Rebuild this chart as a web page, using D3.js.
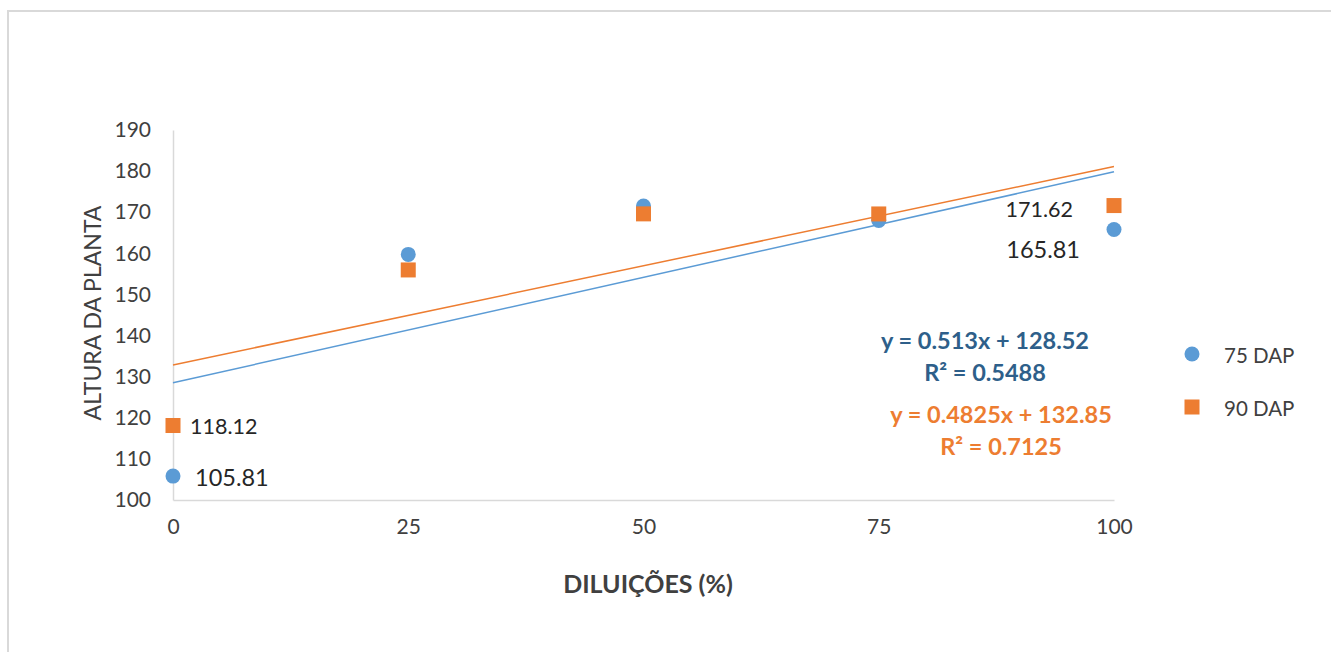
<!DOCTYPE html>
<html><head><meta charset="utf-8">
<script src="https://cdn.jsdelivr.net/npm/d3@7"></script>
<style>body{margin:0;background:#fff}svg{display:block}text{font-family:Lato,"Open Sans",sans-serif}</style>
</head><body><svg id="c" width="1331" height="652"></svg>
<script>
const xValues = [0, 25, 50, 75, 100];
const dap75 = [105.81, 159.74, 171.5, 167.99, 165.81];
const dap90 = [118.12, 155.96, 169.6, 169.58, 171.62];
const seriesNames = ["75 DAP", "90 DAP"];
const trend75 = {slope: 0.513, intercept: 128.52, eq: "y = 0.513x + 128.52", r2: "R² = 0.5488"};
const trend90 = {slope: 0.4825, intercept: 132.85, eq: "y = 0.4825x + 132.85", r2: "R² = 0.7125"};
const xTicks = [0, 25, 50, 75, 100];
const yTicks = [100, 110, 120, 130, 140, 150, 160, 170, 180, 190];

const svg = d3.select("#c");
const blue = "#5b9bd5", orange = "#ed7d31", axisCol = "#d9d9d9", txt = "#404040";
// frame
svg.append("rect").attr("x", 8).attr("y", 11).attr("width", 1340).attr("height", 660)
  .attr("fill", "none").attr("stroke", axisCol).attr("stroke-width", 2);

const x = d3.scaleLinear().domain([0, 100]).range([173, 1114]);
const y = d3.scaleLinear().domain([100, 190]).range([500, 130]);

// axes
const yAx = svg.append("g").attr("transform", "translate(173,0)")
  .call(d3.axisLeft(y).tickValues(yTicks).tickSize(0).tickPadding(22));
const xAx = svg.append("g").attr("transform", "translate(0,500)")
  .call(d3.axisBottom(x).tickValues(xTicks).tickSize(0).tickPadding(19));
[yAx, xAx].forEach(g => {
  g.select(".domain").attr("stroke", axisCol).attr("stroke-width", 1.5);
  g.selectAll("text").attr("fill", txt).attr("font-size", 21).attr("font-family", "Lato");
});

// trendlines
[[trend75, blue], [trend90, orange]].forEach(([t, c]) => {
  svg.append("line")
    .attr("x1", x(0)).attr("y1", y(t.intercept))
    .attr("x2", x(100)).attr("y2", y(t.intercept + t.slope * 100))
    .attr("stroke", c).attr("stroke-width", 1.5);
});

// points
svg.selectAll("circle.p").data(xValues.map((v, i) => [v, dap75[i]])).enter()
  .append("circle").attr("class", "p").attr("cx", d => x(d[0])).attr("cy", d => y(d[1]))
  .attr("r", 7.5).attr("fill", blue);
svg.selectAll("rect.p").data(xValues.map((v, i) => [v, dap90[i]])).enter()
  .append("rect").attr("class", "p").attr("x", d => x(d[0]) - 7.5).attr("y", d => y(d[1]) - 7.5)
  .attr("width", 15).attr("height", 15).attr("fill", orange);

// data labels
const lab = (t, xx, yy, anchor, fs) => svg.append("text").attr("x", xx).attr("y", yy)
  .attr("text-anchor", anchor).attr("dominant-baseline", "central")
  .attr("font-size", fs).attr("fill", "#262626").text(t);
lab(dap90[0].toFixed(2), x(0) + 17, y(dap90[0]), "start", 21.5);
lab(dap75[0].toFixed(2), x(0) + 22, y(dap75[0]) + 1, "start", 23.5);
lab(dap90[4].toFixed(2), x(100) - 41, y(dap90[4]) + 3, "end", 21.5);
lab(dap75[4].toFixed(2), x(100) - 34, y(dap75[4]) + 20, "end", 23.5);

// equations
const eq = (t, cx, cy, c) => svg.append("text").attr("x", cx).attr("y", cy)
  .attr("text-anchor", "middle").attr("dominant-baseline", "central")
  .attr("font-size", 23.5).attr("font-weight", "bold").attr("fill", c).text(t);
eq(trend75.eq, 985, 340, "#2e5f8a");
eq(trend75.r2, 985, 372, "#2e5f8a");
eq(trend90.eq, 1001, 414, orange);
eq(trend90.r2, 1001, 446, orange);

// legend
svg.append("circle").attr("cx", 1192).attr("cy", 354).attr("r", 7.5).attr("fill", blue);
svg.append("rect").attr("x", 1184.5).attr("y", 399.5).attr("width", 15).attr("height", 15).attr("fill", orange);
seriesNames.forEach((n, i) => svg.append("text").attr("x", 1224).attr("y", 355 + i * 53)
  .attr("dominant-baseline", "central").attr("font-size", 20.5).attr("fill", txt).text(n));

// axis titles
svg.append("text").attr("x", 648).attr("y", 583).attr("text-anchor", "middle")
  .attr("dominant-baseline", "central").attr("font-size", 25).attr("font-weight", "bold")
  .attr("fill", txt).text("DILUIÇÕES (%)");
svg.append("text").attr("transform", "translate(92,313) rotate(-90)").attr("text-anchor", "middle")
  .attr("dominant-baseline", "central").attr("font-size", 23)
  .attr("fill", txt).text("ALTURA DA PLANTA");
</script></body></html>
